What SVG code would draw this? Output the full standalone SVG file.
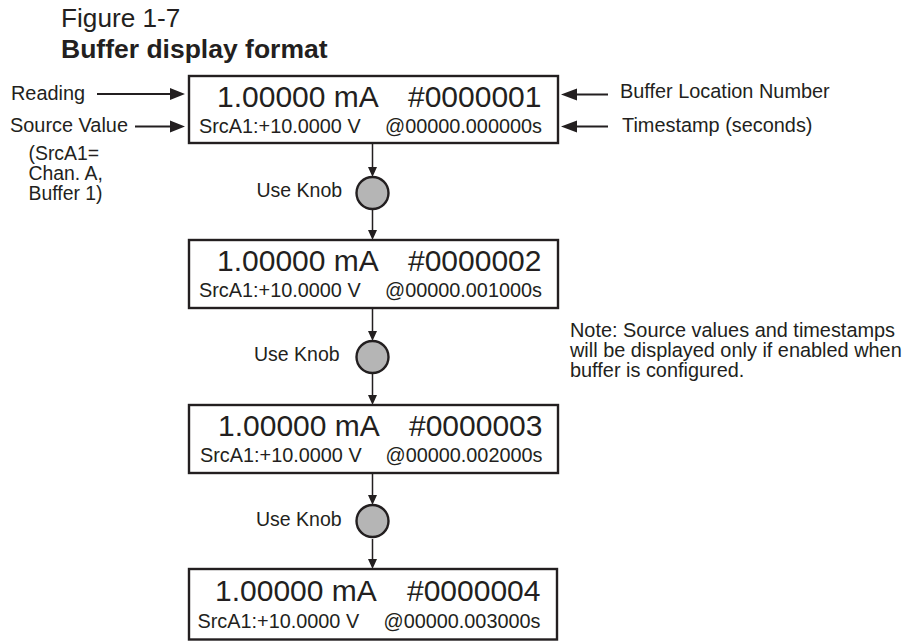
<svg xmlns="http://www.w3.org/2000/svg" width="905" height="641" viewBox="0 0 905 641">
<style>
text{font-family:"Liberation Sans",Arial,sans-serif;fill:#231f20}
.big{font-size:30px}
.small{font-size:19.85px}
.lab{font-size:19.9px}
.note{font-size:19.4px}
.knobt{font-size:19.5px}
.box{fill:#fff;stroke:#231f20;stroke-width:2.4}
.knob{fill:#b5b5b5;stroke:#231f20;stroke-width:2.4}
.c{stroke:#231f20;stroke-width:1.5;fill:none}
.c2{stroke:#231f20;stroke-width:2;fill:none}
.h{fill:#231f20}
</style>
<rect width="905" height="641" fill="#fff"/>
<text x="61" y="27" font-size="26.2">Figure 1-7</text>
<text x="61" y="58" font-size="26.5" font-weight="700">Buffer display format</text>
<g id="connectors">
<path class="c2" d="M97 94H172M135 126.500H172M608 94.500H574M608 126.500H574"/>
<path class="c" d="M372.500 144V170M372.500 210V232M372.500 308V334M372.500 374V396M372.500 473V499M372.500 539V561"/>
<path class="h" d="M185 94L170 88V100ZM185 126.500L170 120.500V132.500ZM561 94.500L577 88.500V100.500ZM561 126.500L577 120.500V132.500ZM372.500 177L368 167H377ZM372.500 240L368 230H377ZM372.500 341L368 331H377ZM372.500 405L368 395H377ZM372.500 505L368 495H377ZM372.500 569L368 559H377Z"/>
</g>
<g id="labels">
<text class="lab" x="11" y="100">Reading</text>
<text class="lab" x="10" y="132">Source Value</text>
<text class="note" x="28.500" y="159.500">(SrcA1=</text>
<text class="note" x="28.500" y="179.500">Chan. A,</text>
<text class="note" x="28.500" y="199.500">Buffer 1)</text>
<text class="lab" x="620" y="98">Buffer Location Number</text>
<text class="lab" x="622" y="132">Timestamp (seconds)</text>
<text class="lab" x="570" y="337">Note: Source values and timestamps</text>
<text class="lab" x="570" y="357">will be displayed only if enabled when</text>
<text class="lab" x="570" y="377">buffer is configured.</text>
</g>
<g id="display1"><rect class="box" x="189" y="76" width="369" height="67"/><text class="big" x="217" y="107">1.00000 mA</text><text class="big" x="408" y="107">#0000001</text><text class="small" x="199" y="133">SrcA1:+10.0000 V</text><text class="small" x="385" y="133">@00000.000000s</text></g>
<g id="knob1"><circle class="knob" cx="372.500" cy="193" r="16"/><text class="knobt" x="256.500" y="197">Use Knob</text></g>
<g id="display2"><rect class="box" x="189" y="240" width="369" height="68"/><text class="big" x="217" y="271">1.00000 mA</text><text class="big" x="408" y="271">#0000002</text><text class="small" x="199" y="297">SrcA1:+10.0000 V</text><text class="small" x="385" y="297">@00000.001000s</text></g>
<g id="knob2"><circle class="knob" cx="372.500" cy="357" r="16"/><text class="knobt" x="254" y="361">Use Knob</text></g>
<g id="display3"><rect class="box" x="189" y="405" width="369" height="68"/><text class="big" x="218" y="436">1.00000 mA</text><text class="big" x="409" y="436">#0000003</text><text class="small" x="200" y="462">SrcA1:+10.0000 V</text><text class="small" x="385.500" y="462">@00000.002000s</text></g>
<g id="knob3"><circle class="knob" cx="372.500" cy="521" r="16"/><text class="knobt" x="256" y="526">Use Knob</text></g>
<g id="display4"><rect class="box" x="189" y="569" width="368" height="70.500"/><text class="big" x="215" y="601">1.00000 mA</text><text class="big" x="407" y="601">#0000004</text><text class="small" x="197.500" y="628">SrcA1:+10.0000 V</text><text class="small" x="383.500" y="628">@00000.003000s</text></g>
</svg>
